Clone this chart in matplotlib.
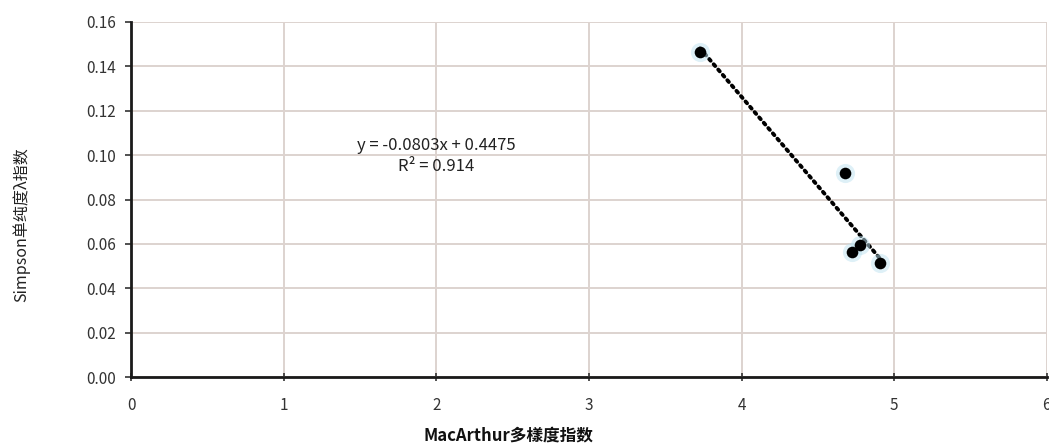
import matplotlib
matplotlib.use("Agg")
import matplotlib.pyplot as plt
import numpy as np

plt.rcParams['font.family'] = ['Noto Sans CJK SC', 'DejaVu Sans']

# MacArthur diversity vs Simpson dominance index
macarthur = [3.728, 4.677, 4.723, 4.776, 4.908]
simpson = [0.1464, 0.0918, 0.0563, 0.0594, 0.0513]
slope, intercept, r2 = -0.0803, 0.4475, 0.914

x_ticks = [0, 1, 2, 3, 4, 5, 6]
y_ticks = [0.00, 0.02, 0.04, 0.06, 0.08, 0.10, 0.12, 0.14, 0.16]

fig = plt.figure(figsize=(10.49, 4.46), dpi=100)
ax = fig.add_axes([0.1249, 0.1543, 0.873, 0.7964])

ax.set_xlim(0, 6)
ax.set_ylim(0, 0.16)
ax.set_xticks(x_ticks)
ax.set_yticks(y_ticks)
ax.set_xticklabels([str(t) for t in x_ticks])
ax.set_yticklabels([f"{t:.2f}" for t in y_ticks])

ax.grid(True, color='#ddd3cf', linewidth=1.4)
ax.set_axisbelow(True)
for side in ('top', 'right'):
    ax.spines[side].set_visible(False)
for side in ('left', 'bottom'):
    ax.spines[side].set_color('#1a1a1a')
    ax.spines[side].set_linewidth(2)

ax.tick_params(axis='y', direction='out', length=4, width=1.2, color='#333333',
               labelsize=11, labelcolor='#333333', pad=7)
ax.tick_params(axis='x', direction='inout', length=6, width=1.2, color='#333333',
               labelsize=11, labelcolor='#333333', pad=11)

# linear trend line over the data range
xs = np.array([min(macarthur), max(macarthur)])
ax.plot(xs, slope * xs + intercept, color='black', linewidth=2.8,
        linestyle=(0, (0.6, 1.2)), dash_capstyle='round', zorder=3)

ax.scatter(macarthur, simpson, s=190, color='#bfe3f0', alpha=0.5, linewidths=0, zorder=4)
ax.scatter(macarthur, simpson, s=70, color='black', linewidths=0, zorder=5)

ax.text(2.0, 0.1045, f"y = {slope:.4f}x + {intercept:.4f}", ha='center', va='center',
        fontsize=12, color='#222222')
ax.text(2.0, 0.0947, f"R² = {r2:.3f}", ha='center', va='center',
        fontsize=12, color='#222222')

ax.set_xlabel("MacArthur多樣度指数", fontsize=12, fontweight='bold', color='#111111')
ax.xaxis.set_label_coords(0.4116, -0.163)
ax.xaxis.label.set_va('center')
ax.set_ylabel("Simpson单纯度λ指数", fontsize=11.5, color='#222222')
ax.yaxis.set_label_coords(-0.120, 0.4285)
ax.yaxis.label.set_va('center')

fig.savefig("out.png", dpi=100)
